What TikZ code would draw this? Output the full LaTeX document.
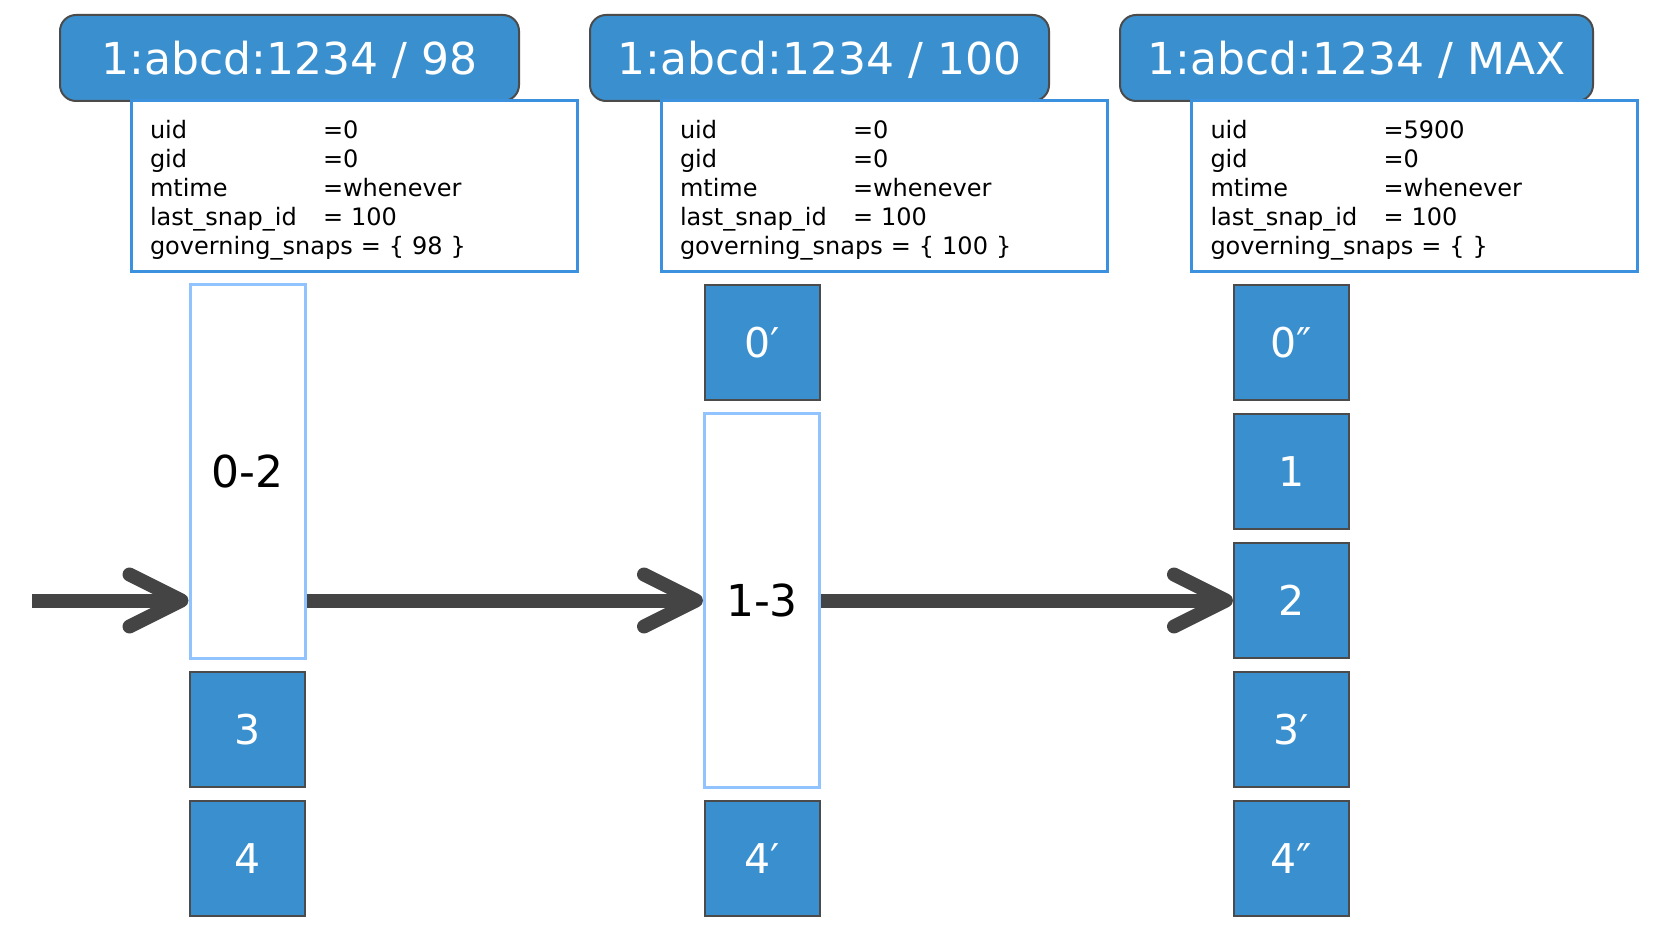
\documentclass[tikz,border=0pt]{standalone}
\usepackage{fontspec}
\setmainfont{DejaVu Sans}
\usetikzlibrary{arrows.meta}
\definecolor{boxblue}{RGB}{58,144,207}
\definecolor{edgegray}{RGB}{75,75,75}
\definecolor{infoblue}{RGB}{60,145,222}
\definecolor{lightedge}{RGB}{145,195,255}
\definecolor{arrowgray}{RGB}{68,68,68}
\newcommand\kv[2]{\makebox[86.5pt][l]{#1}#2}
\newcommand\firstline{\rule{0pt}{12.6pt}}
\begin{document}
\begin{tikzpicture}[x=0.5pt,y=-0.5pt,
  hdr/.style={draw=edgegray, line width=1pt, fill=boxblue, rounded corners=8pt,
    minimum height=43pt, inner sep=0pt, text=white, text depth=0pt,
    font=\fontsize{22}{27}\selectfont},
  info/.style={draw=infoblue, line width=1.5pt, fill=white,
    minimum height=85.5pt, inner xsep=9.5pt, inner ysep=0pt,
    text width=204pt, align=left, font=\fontsize{12}{14.5}\selectfont},
  blk/.style={draw=edgegray, line width=1pt, fill=boxblue,
    minimum width=57.5pt, minimum height=57.5pt, inner sep=0pt, text=white,
    font=\fontsize{20.5}{24}\selectfont},
  rng/.style={draw=lightedge, line width=1.5pt, fill=white,
    minimum width=57.5pt, minimum height=186.5pt, inner sep=0pt,
    font=\fontsize{22}{26}\selectfont},
  conn/.style={draw=arrowgray, line width=7pt,
    -{Straight Barb[length=26pt, width=26pt, round]}}
]
\useasboundingbox (0,0) rectangle (1662,925);

% headers
\node[hdr, minimum width=229.5pt] (h1) at (289.5,58) {1:abcd:1234 / 98};
\node[hdr, minimum width=229.5pt] (h2) at (819.5,58) {1:abcd:1234 / 100};
\node[hdr, minimum width=236.5pt] (h3) at (1356.5,58) {1:abcd:1234 / MAX};

% info boxes
\node[info] (i1) at (354,186.5) {\firstline\kv{uid}{=0}\\\kv{gid}{=0}\\\kv{mtime}{=whenever}\\\kv{last\_snap\_id}{= 100}\\governing\_snaps = \{ 98 \}};
\node[info] (i2) at (884,186.5) {\firstline\kv{uid}{=0}\\\kv{gid}{=0}\\\kv{mtime}{=whenever}\\\kv{last\_snap\_id}{= 100}\\governing\_snaps = \{ 100 \}};
\node[info] (i3) at (1414.5,186.5) {\firstline\kv{uid}{=5900}\\\kv{gid}{=0}\\\kv{mtime}{=whenever}\\\kv{last\_snap\_id}{= 100}\\governing\_snaps = \{ \}};

% column 1
\node[rng] (a02) at (247.5,471.5) {0-2};
\node[blk] (a3) at (247.5,729.5) {3};
\node[blk] (a4) at (247.5,858.5) {4};

% column 2
\node[blk] (b0) at (762,342.5) {0′};
\node[rng] (b13) at (762,600.5) {1-3};
\node[blk] (b4) at (762,858.5) {4′};

% column 3
\node[blk] (c0) at (1291.5,342.5) {0″};
\node[blk] (c1) at (1291.5,471.5) {1};
\node[blk] (c2) at (1291.5,600.5) {2};
\node[blk] (c3) at (1291.5,729.5) {3′};
\node[blk] (c4) at (1291.5,858.5) {4″};

% arrows
\coordinate (start) at (32,600.5);
\draw[conn] (start) -- (start -| a02.west);
\draw[conn] (start -| a02.east) -- (b13.west);
\draw[conn] (b13.east) -- (c2.west);
\end{tikzpicture}
\end{document}
